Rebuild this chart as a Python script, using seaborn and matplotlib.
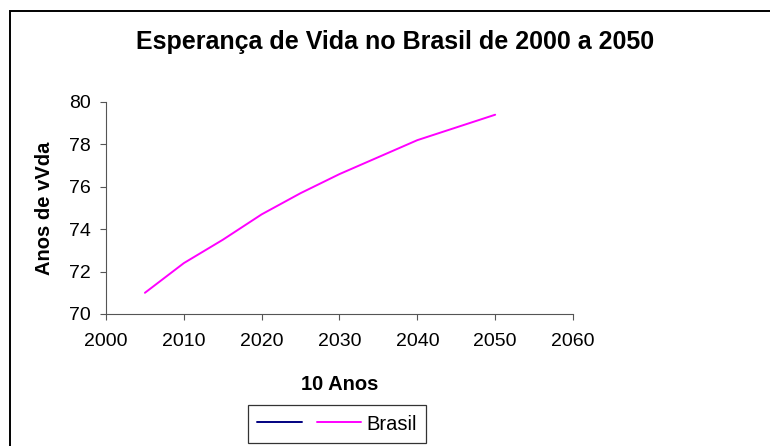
import matplotlib
matplotlib.use("Agg")
import matplotlib.pyplot as plt
import seaborn as sns
import pandas as pd
from matplotlib.lines import Line2D
from matplotlib.patches import Rectangle

# dados
anos = [2005, 2010, 2015, 2020, 2025, 2030, 2035, 2040, 2045, 2050]
brasil = [71.0, 72.4, 73.5, 74.7, 75.7, 76.6, 77.4, 78.2, 78.8, 79.4]
x_ticks = [2000, 2010, 2020, 2030, 2040, 2050, 2060]
y_ticks = [70, 72, 74, 76, 78, 80]

sns.set_theme(style="white")
plt.rcParams['font.family'] = ['Liberation Sans', 'DejaVu Sans']
plt.rcParams['text.color'] = 'black'
plt.rcParams['axes.labelcolor'] = 'black'
plt.rcParams['xtick.color'] = 'black'
plt.rcParams['ytick.color'] = 'black'

df = pd.DataFrame({"ano": anos, "vida": brasil})

fig = plt.figure(figsize=(7.7, 4.46), dpi=100)
ax = fig.add_axes([106 / 770, 1 - 314 / 446, (573 - 106) / 770, (314 - 102) / 446])

sns.lineplot(data=df, x="ano", y="vida", ax=ax, color="#FF00FF", linewidth=1.4)

ax.set_xlim(2000, 2060)
ax.set_ylim(70, 80)
ax.set_xticks(x_ticks)
ax.set_yticks(y_ticks)
ax.tick_params(axis="both", direction="out", length=4.5, width=0.8,
               labelsize=14, bottom=True, left=True, labelcolor="black")
ax.tick_params(axis="x", pad=9)
ax.tick_params(axis="y", pad=6.5)
ax.tick_params(axis="both", color="#555555")
for s in ["top", "right"]:
    ax.spines[s].set_visible(False)
for s in ["left", "bottom"]:
    ax.spines[s].set_color("#555555")
    ax.spines[s].set_linewidth(0.8)

ax.set_xlabel("10 Anos", fontsize=14.5, fontweight="bold", va="center")
ax.xaxis.set_label_coords(0.5, (314 - 384) / 212)
ax.set_ylabel("Anos de vVda", fontsize=14.5, fontweight="bold", va="center")
ax.yaxis.set_label_coords((45 - 106) / 467, 0.5)

fig.text(395 / 770, 1 - 42 / 446, "Esperança de Vida no Brasil de 2000 a 2050",
         ha="center", va="center", fontsize=18, fontweight="bold")

handles = [Line2D([], [], color="#000080", linewidth=1.4),
           Line2D([], [], color="#FF00FF", linewidth=1.4)]
leg = fig.legend(handles=handles, labels=["", "Brasil"], ncol=2,
                 loc="center", bbox_to_anchor=(337 / 770, 1 - 424 / 446),
                 frameon=True, fancybox=False, edgecolor="black", fontsize=14.5,
                 handlelength=2.2, columnspacing=0.5, handletextpad=0.25,
                 borderpad=0.45)
leg.get_frame().set_linewidth(0.9)

# borda da area do grafico
fig.patches.append(Rectangle((10 / 770, -0.1), 1.0, 1 - 11 / 446 + 0.1,
                             transform=fig.transFigure, fill=False,
                             edgecolor="black", linewidth=1.4))

fig.savefig("out.png", dpi=100)
